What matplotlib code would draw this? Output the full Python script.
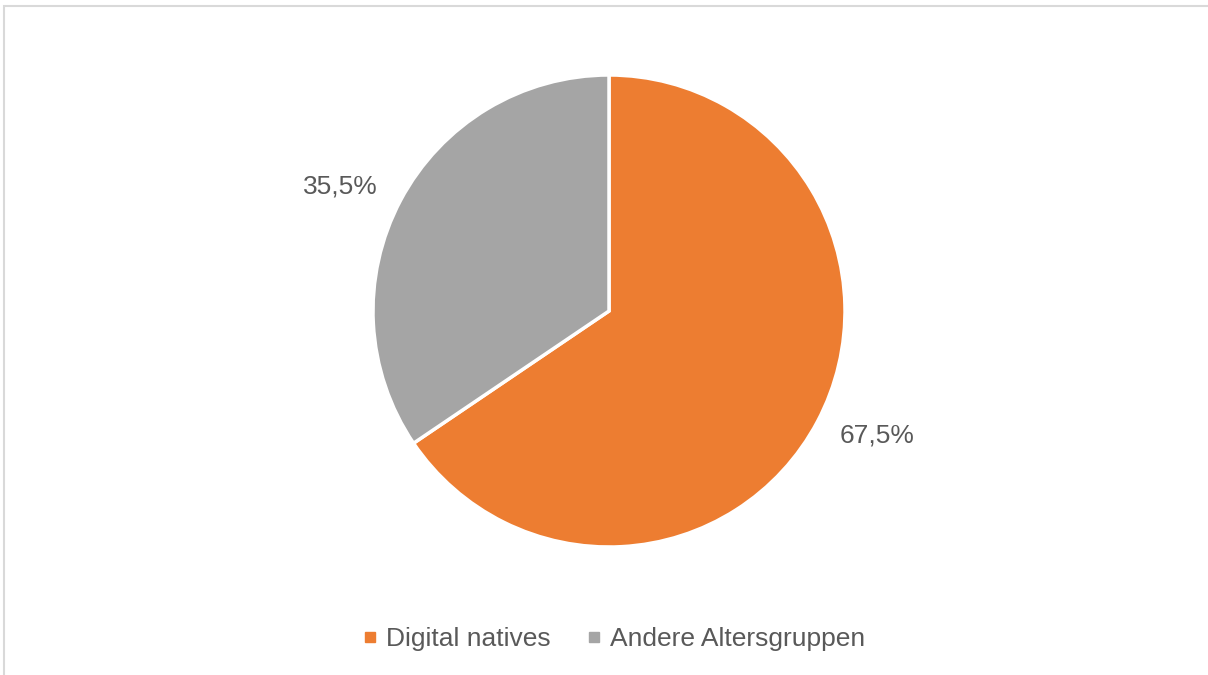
import numpy as np
import matplotlib.pyplot as plt
from matplotlib.lines import Line2D
from matplotlib.patches import Rectangle

plt.rcParams['font.family'] = ['Liberation Sans', 'DejaVu Sans']

categories = ['Digital natives', 'Andere Altersgruppen']
values = [67.5, 35.5]
colors = ['#ED7D31', '#A5A5A5']
text_color = '#595959'


def fmt(v):
    return f"{v:.1f}".replace('.', ',') + '%'


fig = plt.figure(figsize=(12.08, 6.75), dpi=100)
ax = fig.add_axes([0, 0, 1, 1])

cx, cy, r = 609, 364, 236
wedges, _ = ax.pie(values, colors=colors, startangle=90, counterclock=False,
                   center=(cx, cy), radius=r, frame=True,
                   wedgeprops=dict(edgecolor='white', linewidth=2.5))

# value labels outside each wedge
for w, v in zip(wedges, values):
    ang = np.deg2rad((w.theta1 + w.theta2) / 2 + 3)
    ax.text(cx + 1.255 * r * np.cos(ang), cy + 1.255 * r * np.sin(ang), fmt(v),
            ha='center', va='center', fontsize=19, color=text_color)

ax.set_xlim(0, 1208)
ax.set_ylim(0, 675)
ax.set_aspect('equal')
ax.axis('off')

# chart area border (top and left edges visible)
fig.patches.append(Rectangle((4 / 1208, -0.1), 1.2, (675 - 6) / 675 + 0.1,
                             transform=fig.transFigure, fill=False,
                             edgecolor='#D9D9D9', linewidth=1.5))

handles = [Line2D([], [], marker='s', linestyle='none', markersize=7,
                  markerfacecolor=c, markeredgecolor=c) for c in colors]
fig.legend(handles, categories, loc='center', bbox_to_anchor=(0.506, 0.053),
           ncol=2, frameon=False, fontsize=19, labelcolor=text_color,
           handletextpad=0.1, columnspacing=1.15, handlelength=1.0)

fig.savefig('out.png', dpi=100)
